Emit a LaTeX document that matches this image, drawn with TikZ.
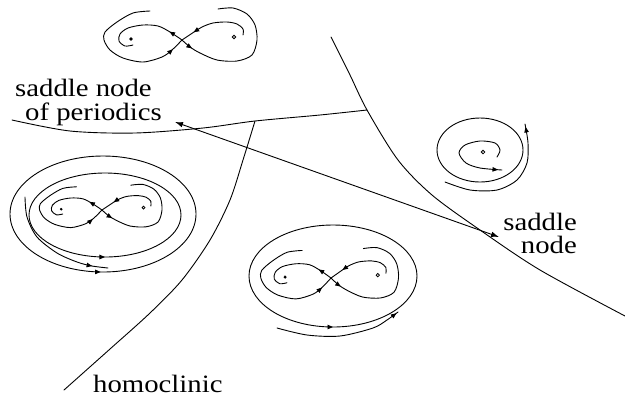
\documentclass[tikz,border=0pt]{standalone}
\usepackage{fontspec}
\setmainfont{Liberation Serif}[FakeStretch=1.15]
\usetikzlibrary{arrows.meta,decorations.markings}
\tikzset{
  curve/.style={line width=0.9bp, line cap=round, line join=round},
  arrowat/.style={postaction={decorate,decoration={markings,
     mark=at position #1 with {\arrow{Triangle[length=5.5bp,width=4.5bp]}}}}},
  arrowrevat/.style={postaction={decorate,decoration={markings,
     mark=at position #1 with {\arrowreversed{Triangle[length=5.5bp,width=4.5bp]}}}}},
  lab/.style={inner sep=0pt, font=\fontsize{25bp}{24bp}\selectfont},
  eight/.pic={
    \draw[curve, arrowat=-13bp] plot[smooth] coordinates {(-32,-29) (-49,-27) (-65,-18) (-77,-8) (-78,0) (-72,10) (-59,18) (-39,22) (-20,17) (-10,10) (0,0)};
    \draw[curve, arrowat=15bp] plot[smooth] coordinates {(0,0) (-12,-8) (-24,-14) (-39,-15) (-54,-12) (-62,-6) (-63,1) (-57,6) (-49,5)};
    \draw[curve, arrowat=-14bp] plot[smooth] coordinates {(61,-5) (61,-11) (55,-16) (45,-18) (31,-17) (20,-13) (12,-8) (0,0)};
    \draw[curve, arrowat=13bp] plot[smooth] coordinates {(0,0) (8,7) (18,13) (35,20) (55,21) (70,15) (75,0) (73,-15) (65,-26) (51,-32) (36,-31)};
    \fill (-51,-1) circle[radius=1.8];
    \draw[line width=0.8bp] (52,-3) circle[radius=1.8];
  }
}
\begin{document}
\begin{tikzpicture}[x=1bp,y=-1bp]
\useasboundingbox (0,0) rectangle (625,401);

% bifurcation curves
\draw[curve] plot[smooth] coordinates {(12,120) (70,131) (135,133) (203,128) (255,121) (320,115) (367,110)};
\draw[curve] plot[smooth] coordinates {(64,390) (110,349) (150,313) (182,280) (210,240) (230,200) (243,160) (255,121)};
\draw[curve] plot[smooth] coordinates {(331,37) (350,75) (367,110) (398,160) (432,195) (480,230) (540,270) (625,316)};

\coordinate (aL) at (175,122);
\coordinate (aR) at (499,237);
\draw[curve, {Latex[length=8bp,width=5.5bp]}-{Latex[length=8bp,width=5.5bp]}] (aL) -- (aR);

% labels
\node[lab, anchor=base west] (snp1) at (15,96) {saddle node};
\node[lab, anchor=base west] (snp2) at (25,120) {of periodics};
\node[lab, anchor=base east] (sn1) at (577,230) {saddle};
\node[lab, anchor=base east] (sn2) at (577,253) {node};
\node[lab, anchor=base west] (hom) at (93,392) {homoclinic};

% top phase portrait
\pic at (182,40) {eight};

% left phase portrait
\pic[xscale=0.8,yscale=0.8] at (102,210) {eight};
\draw[curve, arrowrevat=0.25] (105,215) ellipse[x radius=76, y radius=42];
\draw[curve, arrowrevat=0.255] (103,214) ellipse[x radius=93, y radius=58];
\draw[curve, arrowat=-16bp] plot[smooth] coordinates {(25,197) (27,217) (37,237) (57,253) (77,262) (92,266) (108,268)};

% bottom phase portrait
\pic[xscale=0.9,yscale=0.95] at (331,278) {eight};
\draw[curve, arrowrevat=0.25] (333,276) ellipse[x radius=84, y radius=51];
\draw[curve, arrowat=-2bp] plot[smooth] coordinates {(277,328) (307,335) (340,336) (373,328) (387,320) (398,312)};

% right phase portrait
\draw[curve] (480,150) ellipse[x radius=43, y radius=32];
\draw[line width=0.8bp] (483,152) circle[radius=1.8];
\draw[curve, arrowat=-4bp] plot[smooth] coordinates {(497,157) (500,150) (495,143) (480,141) (465,145) (459,153) (466,163) (480,168) (502,170)};
\draw[curve, arrowat=-3bp] plot[smooth] coordinates {(445,182) (470,190) (497,190) (517,180) (527,163) (528,143) (525,124)};
\end{tikzpicture}
\end{document}
